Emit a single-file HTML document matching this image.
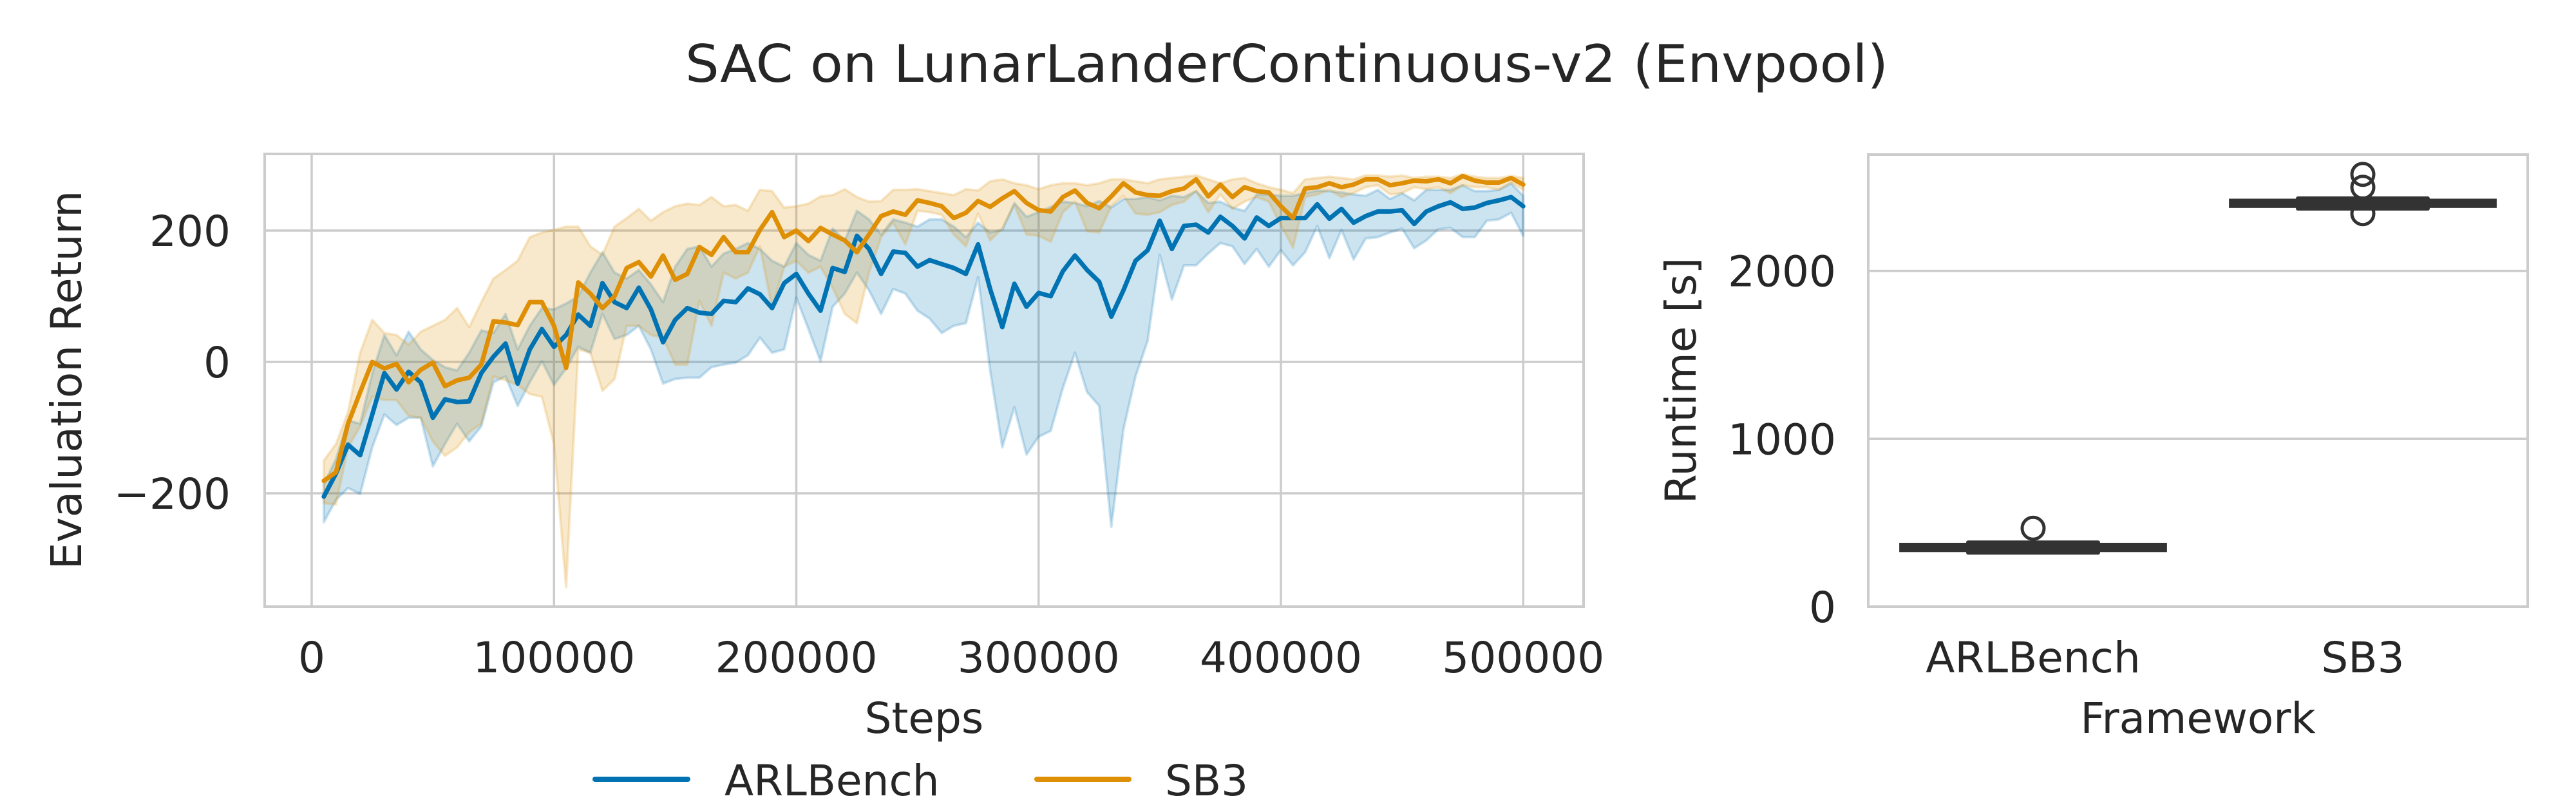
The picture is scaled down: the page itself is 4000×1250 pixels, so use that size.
<!DOCTYPE html>
<html><head><meta charset="utf-8"><style>
html,body{margin:0;padding:0;background:#fff;}
svg{display:block;font-family:"DejaVu Sans","Liberation Sans",sans-serif;}
</style></head><body>
<svg id="fig" width="4000" height="1250" viewBox="0 0 4000 1250" xmlns="http://www.w3.org/2000/svg">
<rect width="4000" height="1250" fill="#fff"/>
<text x="1998" y="127" font-size="80" text-anchor="middle" fill="#262626" textLength="1868" lengthAdjust="spacingAndGlyphs">SAC on LunarLanderContinuous-v2 (Envpool)</text>
<g id="left"></g>
<g id="right"></g>
<g>
<line x1="924" y1="1210" x2="1068" y2="1210" stroke="#0173b2" stroke-width="8" stroke-linecap="round"/>
<text x="1125" y="1235" font-size="66" fill="#262626">ARLBench</text>
<line x1="1610" y1="1210" x2="1753" y2="1210" stroke="#de8f05" stroke-width="8" stroke-linecap="round"/>
<text x="1809" y="1235" font-size="66" fill="#262626">SB3</text>
</g>
</svg>
<script>
const steps=[5000,10000,15000,20000,25000,30000,35000,40000,45000,50000,55000,60000,65000,70000,75000,80000,85000,90000,95000,100000,105000,110000,115000,120000,125000,130000,135000,140000,145000,150000,155000,160000,165000,170000,175000,180000,185000,190000,195000,200000,205000,210000,215000,220000,225000,230000,235000,240000,245000,250000,255000,260000,265000,270000,275000,280000,285000,290000,295000,300000,305000,310000,315000,320000,325000,330000,335000,340000,345000,350000,355000,360000,365000,370000,375000,380000,385000,390000,395000,400000,405000,410000,415000,420000,425000,430000,435000,440000,445000,450000,455000,460000,465000,470000,475000,480000,485000,490000,495000,500000];
const blueMean=[-205,-170,-126,-142,-80,-17,-42,-15,-31,-85,-57,-61,-60,-17,8,28,-33,19,50,23,41,72,55,120,91,82,113,80,30,64,82,75,73,93,91,112,103,82,120,134,104,78,143,137,192,172,134,168,166,145,155,149,143,134,179,111,53,119,84,105,100,138,162,140,122,69,109,154,170,215,172,207,209,197,221,207,188,220,207,219,219,219,240,218,233,212,222,229,229,231,210,229,237,243,233,235,242,246,251,237];
const blueLo=[-244,-210,-192,-201,-130,-80,-96,-85,-85,-159,-125,-94,-121,-98,-31,-22,-67,-31,1,-35,-10,23,14,73,35,41,55,19,-33,-26,-24,-24,-8,-4,-1,10,37,14,19,98,50,1,84,104,136,109,73,111,104,78,66,44,55,59,129,-13,-130,-69,-141,-114,-105,-40,14,-46,-67,-251,-103,-22,32,163,95,147,147,165,181,176,149,172,145,170,147,167,207,158,201,156,188,190,197,203,173,185,202,204,190,190,215,217,227,192];
const blueHi=[-186,-148,-89,-94,-17,41,10,46,19,3,-8,-13,14,48,44,73,19,55,82,80,89,100,136,167,136,127,140,118,91,145,172,176,145,165,172,181,172,154,145,181,163,154,203,185,230,217,194,217,212,206,217,217,206,190,212,197,201,242,221,228,236,244,242,237,245,235,248,248,251,246,253,251,260,242,244,235,230,255,255,253,253,257,261,260,258,255,253,262,248,257,246,262,262,262,269,260,260,262,272,253];
const orangeMean=[-181,-168,-94,-46,0,-10,-3,-31,-12,-1,-37,-28,-24,-4,62,60,56,91,91,55,-9,121,104,82,100,143,152,130,162,125,134,175,163,190,167,167,201,228,190,200,184,204,194,185,167,194,222,229,224,246,242,237,219,227,245,236,249,260,242,231,229,251,261,242,234,252,272,258,254,253,260,264,278,252,270,251,266,260,258,237,219,264,266,272,266,270,278,278,269,272,276,275,278,272,283,276,273,273,280,270];
const orangeLo=[-215,-217,-130,-98,-53,-58,-58,-82,-85,-121,-143,-130,-107,-94,-22,-28,-35,-49,-53,-125,-343,19,14,-44,-26,55,55,41,37,-4,-4,93,55,136,127,136,176,82,145,154,136,145,113,73,59,136,190,212,179,230,228,224,194,176,226,185,203,239,194,192,183,228,244,199,197,237,253,226,224,228,239,244,260,228,255,233,244,251,244,208,174,251,255,262,251,257,266,269,255,257,266,263,266,257,269,266,266,262,273,262];
const orangeHi=[-150,-125,-76,14,64,44,41,26,46,55,64,82,53,91,127,140,154,190,197,201,206,206,176,163,206,219,233,215,228,237,241,239,251,237,239,230,262,260,235,237,241,252,254,263,251,244,245,262,262,263,260,257,254,263,261,275,278,272,269,263,269,272,272,269,272,278,278,275,272,278,280,282,284,278,272,278,280,272,266,262,257,278,280,282,280,278,284,284,282,284,280,282,282,280,286,282,280,280,283,280];
const xTicks=[0,100000,200000,300000,400000,500000];
const yTicks=[-200,0,200];
const frameworks=["ARLBench","SB3"];
const boxQ1=[325,2375];
const boxMedian=[352,2401];
const boxQ3=[380,2430];
const outliersARL=[467];
const outliersSB3=[2575,2498,2341];
const rTicks=[0,1000,2000];

const NS="http://www.w3.org/2000/svg";
function mk(tag,attrs,parent){const e=document.createElementNS(NS,tag);for(const k in attrs)e.setAttribute(k,attrs[k]);parent.appendChild(e);return e;}

// Left chart
const L={x0:411,x1:2459,y0:239,y1:942};
const sx=s=>484+s*0.0037625;
const sy=v=>562-v*1.02;
const left=document.getElementById('left');
xTicks.forEach(t=>{
  const g=mk('line',{x1:sx(t),x2:sx(t),y1:L.y0,y2:L.y1,stroke:'#cccccc','stroke-width':3.5},left);
  
  
  const tx=mk('text',{x:sx(t),y:1044,'font-size':66,'text-anchor':'middle',fill:'#262626'},left);
  tx.textContent=String(t);
  
  
});
yTicks.forEach(t=>{
  const g=mk('line',{x1:L.x0,x2:L.x1,y1:sy(t),y2:sy(t),stroke:'#cccccc','stroke-width':3.5},left);
  
  
  const tx=mk('text',{x:358,y:sy(t)+24,'font-size':66,'text-anchor':'end',fill:'#262626'},left);
  tx.textContent=t<0?'\u2212'+Math.abs(t):String(t);
  
  
});
function band(lo,hi,color,name){
  let d='M'+steps.map((s,i)=>sx(s)+','+sy(hi[i])).join('L');
  for(let i=steps.length-1;i>=0;i--)d+='L'+sx(steps[i])+','+sy(lo[i]);
  d+='Z';
  const p=mk('path',{d:d,fill:color,'fill-opacity':0.2,stroke:color,'stroke-opacity':0.2,'stroke-width':4,'stroke-linejoin':'round'},left);
  
  
}
function line(vals,color,name){
  const d='M'+steps.map((s,i)=>sx(s)+','+sy(vals[i])).join('L');
  const p=mk('path',{d:d,fill:'none',stroke:color,'stroke-width':7,'stroke-linejoin':'round','stroke-linecap':'round'},left);
  
  
}
band(blueLo,blueHi,'#0173b2','arlbench-ci-band');
band(orangeLo,orangeHi,'#de8f05','sb3-ci-band');
line(blueMean,'#0173b2','arlbench-line');
line(orangeMean,'#de8f05','sb3-line');
const lf=mk('rect',{x:L.x0,y:L.y0,width:L.x1-L.x0,height:L.y1-L.y0,fill:'none',stroke:'#cccccc','stroke-width':4},left);


const xl=mk('text',{x:1435,y:1138,'font-size':66,'text-anchor':'middle',fill:'#262626'},left);
xl.textContent='Steps';


const yl=mk('text',{x:0,y:0,'font-size':66,'text-anchor':'middle',fill:'#262626',transform:'translate(126,590) rotate(-90)'},left);
yl.textContent='Evaluation Return';



// Right chart
const R={x0:2901,x1:3925,y0:240,y1:942};
const ry=v=>942-v*0.2607;
const bandW=(R.x1-R.x0)/frameworks.length;
const cx=i=>R.x0+bandW*(i+0.5);
const right=document.getElementById('right');
rTicks.forEach(t=>{
  if(t>0){
    const g=mk('line',{x1:R.x0,x2:R.x1,y1:ry(t),y2:ry(t),stroke:'#cccccc','stroke-width':3.5},right);
    
    
  }
  const tx=mk('text',{x:2851,y:ry(t)+24,'font-size':66,'text-anchor':'end',fill:'#262626'},right);
  tx.textContent=String(t);
  
  
});
const outs=[outliersARL,outliersSB3];
frameworks.forEach((f,i)=>{
  const c=cx(i);
  const b=mk('rect',{x:c-bandW*0.406,y:ry(boxQ3[i]),width:bandW*0.812,height:ry(boxQ1[i])-ry(boxQ3[i]),fill:'#333333'},right);
  
  
  const m=mk('rect',{x:c-bandW*0.203,y:ry(boxMedian[i])-11,width:bandW*0.406,height:22,rx:3,fill:'#333333'},right);
  
  
  outs[i].forEach(v=>{
    const o=mk('ellipse',{cx:c,cy:ry(v),rx:17,ry:17,fill:'none',stroke:'#333333','stroke-width':5},right);
    
    
  });
  const tx=mk('text',{x:c,y:1044,'font-size':66,'text-anchor':'middle',fill:'#262626'},right);
  tx.textContent=f;
  
  
});
const rf=mk('rect',{x:R.x0,y:R.y0,width:R.x1-R.x0,height:R.y1-R.y0,fill:'none',stroke:'#cccccc','stroke-width':4},right);


const rxl=mk('text',{x:3413,y:1138,'font-size':66,'text-anchor':'middle',fill:'#262626'},right);
rxl.textContent='Framework';


const ryl=mk('text',{x:0,y:0,'font-size':66,'text-anchor':'middle',fill:'#262626',transform:'translate(2633,591) rotate(-90)'},right);
ryl.textContent='Runtime [s]';


</script>
</body></html>
